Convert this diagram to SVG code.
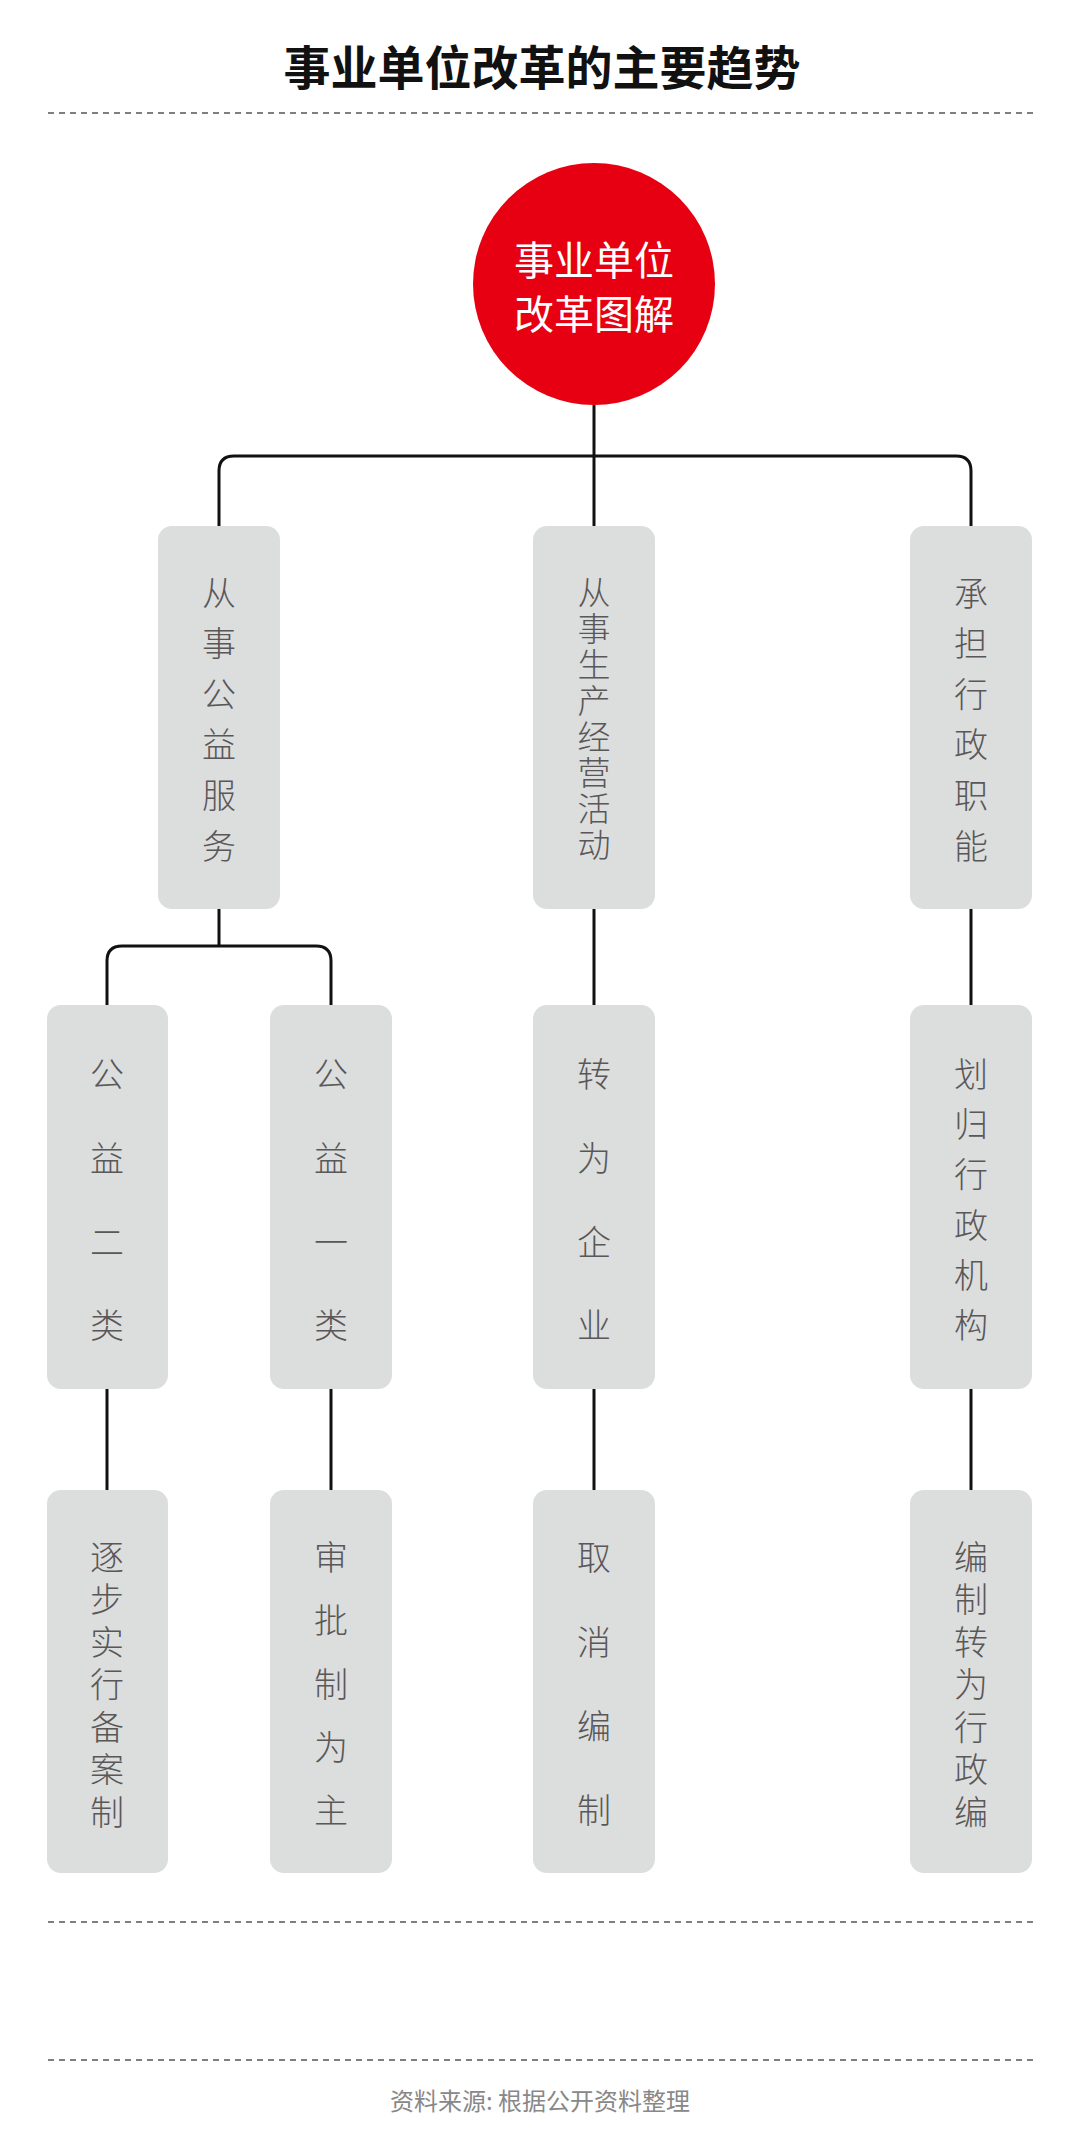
<svg xmlns="http://www.w3.org/2000/svg" width="1080" height="2143" viewBox="0 0 1080 2143">
<style>
.t{font-family:"Noto Sans CJK SC","Noto Sans",sans-serif;}
.box{fill:#dcdddd;}
.lbl{font-family:"Noto Sans CJK SC",sans-serif;font-size:34px;font-weight:300;fill:#595757;text-anchor:middle;dominant-baseline:central;}
.dash{stroke:#555;stroke-width:1.5;stroke-dasharray:6 5;fill:none;}
.con{stroke:#111;stroke-width:3;fill:none;}
</style>
<rect width="1080" height="2143" fill="#fff"/>
<text class="t" x="542" y="64" font-size="47" font-weight="700" fill="#111" text-anchor="middle" dominant-baseline="central">事业单位改革的主要趋势</text>
<line class="dash" x1="48" y1="113" x2="1033" y2="113"/>
<g id="connectors">
<path class="con" d="M594 405V526"/>
<path class="con" d="M219 526V471Q219 456 234 456H956Q971 456 971 471V526"/>
<path class="con" d="M219 909V946"/>
<path class="con" d="M107 1005V961Q107 946 122 946H316Q331 946 331 961V1005"/>
<path class="con" d="M594 909V1005"/>
<path class="con" d="M971 909V1005"/>
<path class="con" d="M107 1389V1490"/>
<path class="con" d="M331 1389V1490"/>
<path class="con" d="M594 1389V1490"/>
<path class="con" d="M971 1389V1490"/>
</g>
<g id="root">
<circle cx="594" cy="284" r="121" fill="#e60012"/>
<text class="t" x="594" y="258" font-size="40" fill="#fff" text-anchor="middle" dominant-baseline="central">事业单位</text>
<text class="t" x="594" y="312" font-size="40" fill="#fff" text-anchor="middle" dominant-baseline="central">改革图解</text>
</g>
<g id="n1"><rect class="box" x="158" y="526" width="122" height="383" rx="14"/>
<text class="lbl"><tspan x="219" y="591">从</tspan><tspan x="219" y="641">事</tspan><tspan x="219" y="692">公</tspan><tspan x="219" y="742">益</tspan><tspan x="219" y="793">服</tspan><tspan x="219" y="844">务</tspan></text></g>
<g id="n2"><rect class="box" x="533" y="526" width="122" height="383" rx="14"/>
<text class="lbl" style="font-size:33px"><tspan x="594" y="591">从</tspan><tspan x="594" y="627">事</tspan><tspan x="594" y="663">生</tspan><tspan x="594" y="699">产</tspan><tspan x="594" y="735">经</tspan><tspan x="594" y="771">营</tspan><tspan x="594" y="807">活</tspan><tspan x="594" y="843">动</tspan></text></g>
<g id="n3"><rect class="box" x="910" y="526" width="122" height="383" rx="14"/>
<text class="lbl"><tspan x="971" y="591">承</tspan><tspan x="971" y="641">担</tspan><tspan x="971" y="692">行</tspan><tspan x="971" y="742">政</tspan><tspan x="971" y="793">职</tspan><tspan x="971" y="844">能</tspan></text></g>
<g id="n4"><rect class="box" x="47" y="1005" width="121" height="384" rx="14"/>
<text class="lbl"><tspan x="107" y="1072">公</tspan><tspan x="107" y="1156">益</tspan><tspan x="107" y="1240">二</tspan><tspan x="107" y="1323">类</tspan></text></g>
<g id="n5"><rect class="box" x="270" y="1005" width="122" height="384" rx="14"/>
<text class="lbl"><tspan x="331" y="1072">公</tspan><tspan x="331" y="1156">益</tspan><tspan x="331" y="1240">一</tspan><tspan x="331" y="1323">类</tspan></text></g>
<g id="n6"><rect class="box" x="533" y="1005" width="122" height="384" rx="14"/>
<text class="lbl"><tspan x="594" y="1072">转</tspan><tspan x="594" y="1156">为</tspan><tspan x="594" y="1240">企</tspan><tspan x="594" y="1323">业</tspan></text></g>
<g id="n7"><rect class="box" x="910" y="1005" width="122" height="384" rx="14"/>
<text class="lbl"><tspan x="971" y="1072">划</tspan><tspan x="971" y="1122">归</tspan><tspan x="971" y="1172">行</tspan><tspan x="971" y="1223">政</tspan><tspan x="971" y="1273">机</tspan><tspan x="971" y="1323">构</tspan></text></g>
<g id="n8"><rect class="box" x="47" y="1490" width="121" height="383" rx="14"/>
<text class="lbl"><tspan x="107" y="1555">逐</tspan><tspan x="107" y="1597">步</tspan><tspan x="107" y="1640">实</tspan><tspan x="107" y="1682">行</tspan><tspan x="107" y="1725">备</tspan><tspan x="107" y="1767">案</tspan><tspan x="107" y="1810">制</tspan></text></g>
<g id="n9"><rect class="box" x="270" y="1490" width="122" height="383" rx="14"/>
<text class="lbl"><tspan x="331" y="1555">审</tspan><tspan x="331" y="1618">批</tspan><tspan x="331" y="1682">制</tspan><tspan x="331" y="1745">为</tspan><tspan x="331" y="1808">主</tspan></text></g>
<g id="n10"><rect class="box" x="533" y="1490" width="122" height="383" rx="14"/>
<text class="lbl"><tspan x="594" y="1555">取</tspan><tspan x="594" y="1640">消</tspan><tspan x="594" y="1724">编</tspan><tspan x="594" y="1808">制</tspan></text></g>
<g id="n11"><rect class="box" x="910" y="1490" width="122" height="383" rx="14"/>
<text class="lbl"><tspan x="971" y="1555">编</tspan><tspan x="971" y="1597">制</tspan><tspan x="971" y="1640">转</tspan><tspan x="971" y="1682">为</tspan><tspan x="971" y="1725">行</tspan><tspan x="971" y="1767">政</tspan><tspan x="971" y="1810">编</tspan></text></g>
<line class="dash" x1="48" y1="1922" x2="1033" y2="1922"/>
<line class="dash" x1="48" y1="2060" x2="1033" y2="2060"/>
<text class="t" x="540" y="2099" font-size="24" fill="#888" text-anchor="middle" dominant-baseline="central">资料来源: 根据公开资料整理</text>
</svg>
